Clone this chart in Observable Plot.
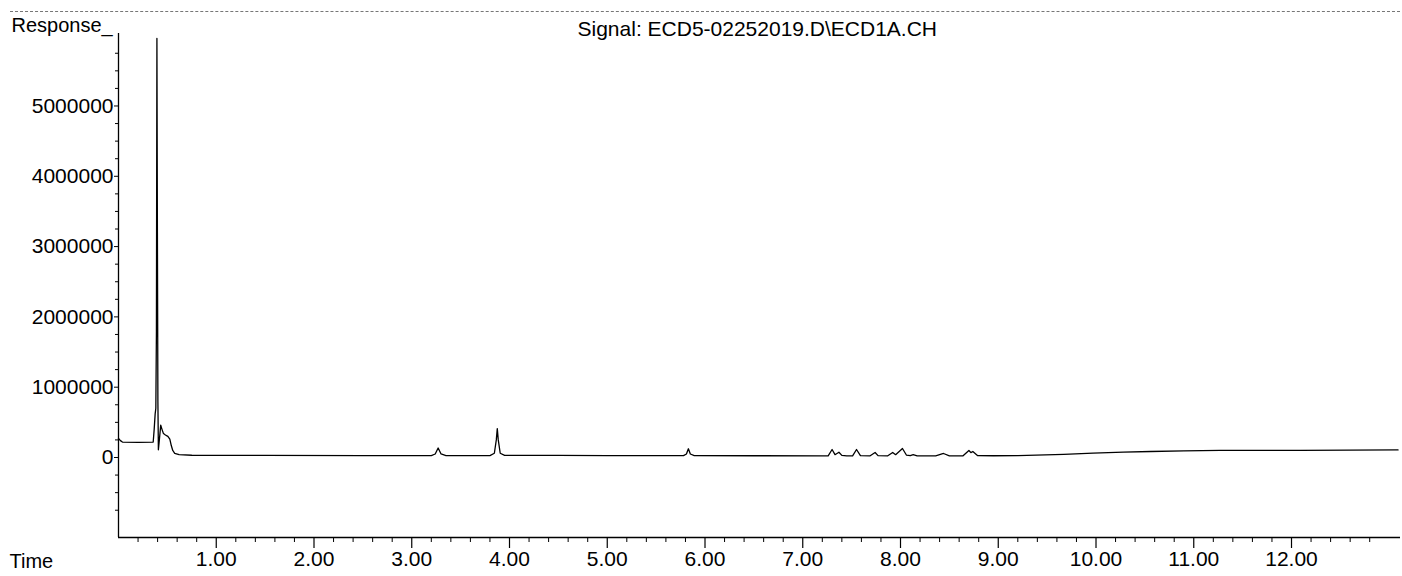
<!DOCTYPE html>
<html><head><meta charset="utf-8">
<script src="https://cdn.jsdelivr.net/npm/d3@7"></script>
<script src="https://cdn.jsdelivr.net/npm/@observablehq/plot@0.6"></script>
<style>
html,body{margin:0;padding:0;background:#fff;}
#chart{position:relative;width:1402px;height:576px;overflow:hidden;}
#rule{position:absolute;left:10px;top:11px;width:1390px;border-top:1px dashed #777;}
</style></head><body><div id="chart"><div id="rule"></div></div>
<script>
// Retention time (min)
const times = [
  0.000, 0.020, 0.040, 0.200, 0.355, 0.365, 0.375, 0.382, 0.388, 0.393, 0.398, 0.403, 0.408,
  0.418, 0.432, 0.445, 0.460, 0.480, 0.505, 0.525, 0.540, 0.555, 0.575, 0.620, 0.750, 1.500, 2.500,
  3.200, 3.240, 3.270, 3.300, 3.350,
  3.800, 3.845, 3.865, 3.875, 3.885, 3.905, 3.950,
  4.500, 5.000, 5.780, 5.810, 5.830, 5.850, 5.890,
  6.500, 7.200, 7.260, 7.300, 7.330, 7.370, 7.400, 7.450,
  7.510, 7.550, 7.590, 7.690, 7.740, 7.770,
  7.870, 7.920, 7.950, 8.020, 8.060, 8.100, 8.130, 8.170,
  8.360, 8.440, 8.500, 8.640, 8.700, 8.720, 8.740, 8.790,
  8.950, 9.200, 9.670, 9.970, 10.280, 10.560, 10.900, 11.270, 12.090, 13.090
];
// Detector response
const responses = [
  270000, 240000, 220000, 215000, 220000, 400000, 620000, 700000, 1800000, 5960000, 3200000, 800000, 110000,
  250000, 460000, 400000, 340000, 320000, 300000, 260000, 170000, 100000, 60000, 40000, 32000, 30000, 28000,
  27000, 50000, 135000, 50000, 28000,
  27000, 60000, 250000, 410000, 250000, 60000, 30000,
  30000, 28000, 27000, 50000, 124000, 50000, 27000,
  25000, 24000, 24000, 114000, 40000, 75000, 30000, 24000,
  24000, 114000, 26000, 24000, 71000, 26000,
  24000, 71000, 40000, 128000, 35000, 26000, 40000, 24000,
  24000, 57000, 24000, 24000, 100000, 70000, 85000, 26000,
  25000, 28000, 43000, 61000, 75000, 85000, 95000, 100000, 100000, 107000
];
const xTickValues = [1, 2, 3, 4, 5, 6, 7, 8, 9, 10, 11, 12];
const xTickLabels = ["1.00", "2.00", "3.00", "4.00", "5.00", "6.00", "7.00", "8.00", "9.00", "10.00", "11.00", "12.00"];
const yTickValues = [0, 1000000, 2000000, 3000000, 4000000, 5000000];
const yTickLabels = ["0", "1000000", "2000000", "3000000", "4000000", "5000000"];
const yAxisTitle = "Response_";
const xAxisTitle = "Time";
const signalLabel = "Signal: ECD5-02252019.D\\ECD1A.CH";

const data = times.map((t, i) => ({t, v: responses[i]}));
const xDomain = [0, 13.115];
const yDomain = [-1138000, 6031000];
const xMinor = d3.range(0.2, 13.11, 0.2).filter(d => Math.abs(d - Math.round(d)) > 1e-6);
const yMinor = d3.range(-1000000, 6000001, 250000).filter(d => d % 1000000 !== 0);
const font = "'Liberation Sans', Arial, Helvetica, sans-serif";

const chart = Plot.plot({
  width: 1402,
  height: 576,
  marginLeft: 118,
  marginRight: 2,
  marginTop: 33,
  marginBottom: 39,
  style: {fontFamily: font, fontSize: "21px", color: "black", background: "white", overflow: "visible"},
  x: {domain: xDomain, axis: null, label: null},
  y: {domain: yDomain, axis: null, label: null},
  marks: [
    Plot.ruleX([xDomain[0]], {stroke: "black", strokeWidth: 1.3}),
    Plot.ruleY([yDomain[0]], {stroke: "black", strokeWidth: 1.3}),
    Plot.axisX(xMinor, {tickSize: 5, tickFormat: () => "", label: null, stroke: "black", strokeWidth: 1}),
    Plot.axisX(xTickValues, {tickSize: 11, tickPadding: 3, label: null, tickFormat: d => xTickLabels[xTickValues.indexOf(d)], fontSize: 21, stroke: "black", strokeWidth: 1.2, fill: "black"}),
    Plot.axisY(yMinor, {tickSize: 3, tickFormat: () => "", label: null, stroke: "black", strokeWidth: 1}),
    Plot.axisY(yTickValues, {tickSize: 4, tickPadding: 1, label: null, tickFormat: d => yTickLabels[yTickValues.indexOf(d)], fontSize: 21, stroke: "black", fill: "black"}),
    Plot.line(data, {x: "t", y: "v", stroke: "black", strokeWidth: 1.3}),
    Plot.text([yAxisTitle], {text: d => d, frameAnchor: "top-left", dx: -107, dy: -2, textAnchor: "start", lineAnchor: "bottom", fontSize: 20, fill: "black"}),
    Plot.text([signalLabel], {text: d => d, frameAnchor: "top-left", dx: 459, dy: 2, textAnchor: "start", lineAnchor: "bottom", fontSize: 21, fill: "black"}),
    Plot.text([xAxisTitle], {text: d => d, frameAnchor: "bottom-left", dx: -109, dy: 30, textAnchor: "start", lineAnchor: "bottom", fontSize: 20, fill: "black"})
  ]
});
document.getElementById("chart").appendChild(chart);
</script>
</body></html>
